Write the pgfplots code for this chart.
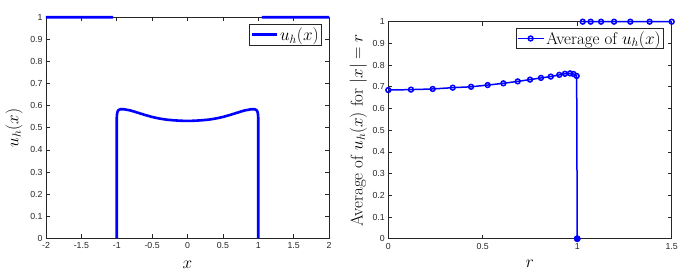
\documentclass[border=0pt]{standalone}
\usepackage{pgfplots}
\pgfplotsset{compat=1.18}
\usepackage{fontspec}
\setsansfont{Liberation Sans}
\definecolor{axgray}{gray}{0.15}
\definecolor{mblue}{rgb}{0,0,1}
\begin{document}
\begin{tikzpicture}
\path[use as bounding box] (0,0) rectangle (683bp,276bp);
\pgfplotsset{
  mystyle/.style={
    scale only axis, anchor=south west, clip=false,
    tick align=inside, major tick length=4bp,
    xtick pos=both, ytick pos=both,
    ticklabel style={font=\sffamily\fontsize{8.8}{10}\selectfont, text=axgray},
    xticklabel style={yshift=-1bp},
    axis line style={axgray, line width=0.6bp},
    every tick/.style={axgray, line width=0.6bp},
    label style={font=\fontsize{17}{20}\selectfont},
    legend style={font=\fontsize{17}{20}\selectfont, draw=axgray, line width=0.6bp,
      inner sep=1bp, cells={anchor=west}},
    ytick={0,0.1,0.2,0.3,0.4,0.5,0.6,0.7,0.8,0.9,1},
    yticklabels={0,0.1,0.2,0.3,0.4,0.5,0.6,0.7,0.8,0.9,1},
    ymin=0, ymax=1,
  }
}
\begin{axis}[mystyle, at={(46bp,37.7bp)}, width=283bp, height=221bp,
  xmin=-2, xmax=2,
  xtick={-2,-1.5,-1,-0.5,0,0.5,1,1.5,2},
  xticklabels={-2,-1.5,-1,-0.5,0,0.5,1,1.5,2},
  xlabel={$x$}, ylabel={$u_h(x)$},
  xlabel style={at={(axis description cs:0.5,-0.122)}, anchor=center},
  ylabel style={at={(axis description cs:-0.113,0.5)}, anchor=center},
  legend style={at={(1,1)}, xshift=-7bp, yshift=-7bp, anchor=north east},
  legend image code/.code={\draw[#1] (0bp,0bp) -- (25bp,0bp);},
  unbounded coords=jump,
]
\addplot[mblue, line width=2.6bp, line join=round] coordinates {
(-2,1) (-1.05,1) (nan,nan)
(-1,0) (-1,0.545) (-0.995,0.565) (-0.985,0.576) (-0.97,0.581) (-0.95,0.584) (-0.9,0.584)
(-0.8,0.578) (-0.7,0.568) (-0.6,0.558) (-0.5,0.549) (-0.4,0.542) (-0.3,0.537)
(-0.2,0.534) (-0.1,0.532) (0,0.531) (0.1,0.532) (0.2,0.534) (0.3,0.537) (0.4,0.542)
(0.5,0.549) (0.6,0.558) (0.7,0.568) (0.8,0.578) (0.9,0.584) (0.95,0.584) (0.97,0.581)
(0.985,0.576) (0.995,0.565) (1,0.545) (1,0) (nan,nan)
(1.05,1) (2,1)
};
\addlegendentry{$u_h(x)$}
\end{axis}
\begin{axis}[mystyle, at={(388.3bp,37.3bp)}, width=283.4bp, height=217bp,
  xmin=0, xmax=1.5,
  xtick={0,0.5,1,1.5}, xticklabels={0,0.5,1,1.5},
  xlabel={$r$}, ylabel={Average of $u_h(x)$ for $|x|=r$},
  xlabel style={at={(axis description cs:0.5,-0.117)}, anchor=center},
  ylabel style={at={(axis description cs:-0.106,0.5)}, anchor=center},
  legend style={at={(1,1)}, xshift=-7.7bp, yshift=-6.3bp, anchor=north east},
  legend image code/.code={\draw[mark repeat=2, mark phase=2, #1] plot coordinates {(0bp,0bp) (13bp,0bp) (26bp,0bp)};},
  unbounded coords=jump,
]
\addplot[mblue, line width=1.5bp, mark=o, mark size=2.4bp, mark options={line width=1.5bp, solid}] coordinates {
(0,0.685) (0.12,0.687) (0.235,0.690) (0.341,0.696) (0.438,0.700) (0.526,0.708)
(0.609,0.716) (0.685,0.725) (0.75,0.733) (0.808,0.741) (0.86,0.747) (0.905,0.755)
(0.935,0.760) (0.962,0.762) (0.98,0.759) (0.997,0.750) (1.0,0) (nan,nan)
(1.029,1) (1.071,1) (1.126,1) (1.195,1) (1.281,1) (1.383,1) (1.5,1)
};
\addlegendentry{Average of $u_h(x)$}
\addplot[mblue, only marks, mark=*, mark size=3.2bp, forget plot] coordinates {(1.0,0)};
\end{axis}
\end{tikzpicture}
\end{document}
